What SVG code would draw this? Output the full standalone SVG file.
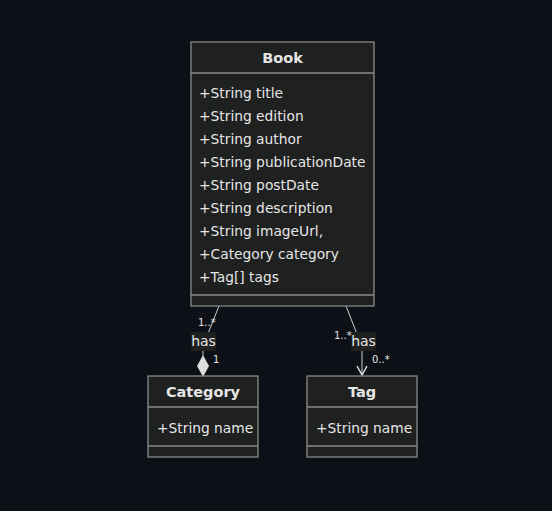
<svg xmlns="http://www.w3.org/2000/svg" width="552" height="511" viewBox="0 0 552 511">
<style>
.bg{fill:#0d1117}
.box{fill:#1f2020;stroke:#8a8a8a;stroke-width:1.3}
.div{stroke:#8a8a8a;stroke-width:1.3}
.t{font-family:"DejaVu Sans",Verdana,sans-serif;fill:#e6e6e6}
.title{font-size:14.5px;font-weight:bold;text-anchor:middle}
.attr{font-size:13.8px}
.edge{fill:none;stroke:#cccccc;stroke-width:1}
.card{font-family:"DejaVu Sans",sans-serif;font-size:10px;fill:#e6e6e6}
.lbl{fill:#1f2020}
.lt{font-family:"DejaVu Sans",sans-serif;font-size:14px;fill:#e6e6e6;text-anchor:middle}
.head{fill:#dddddd;stroke:#dddddd;stroke-width:1}
.open{fill:none;stroke:#dddddd;stroke-width:1.5}
</style>
<rect class="bg" x="0" y="0" width="552" height="511"/>
<g id="connectors">
<path class="edge" d="M219,306 L207,336 L203,346 L203,356"/>
<path class="head" d="M203,356 L208.5,366 L203,376 L197.5,366 Z"/>
<path class="edge" d="M346,306 L357,334 L362,342 L362,375"/>
<path class="open" d="M357,366 L362,375 L367,366"/>
<rect class="lbl" x="191" y="332" width="25" height="19"/>
<text class="lt" x="203.5" y="346">has</text>
<rect class="lbl" x="351" y="332" width="25" height="19"/>
<text class="lt" x="363.5" y="346">has</text>
<text class="card" x="198" y="326">1..*</text>
<text class="card" x="213" y="363">1</text>
<text class="card" x="334" y="339">1..*</text>
<text class="card" x="372" y="363">0..*</text>
</g>
<g id="book">
<rect class="box" x="191" y="42" width="183" height="264"/>
<line class="div" x1="191" y1="73" x2="374" y2="73"/>
<line class="div" x1="191" y1="295" x2="374" y2="295"/>
<text class="t title" x="282.5" y="63">Book</text>
<text class="t attr" x="199" y="98">+String title</text>
<text class="t attr" x="199" y="121">+String edition</text>
<text class="t attr" x="199" y="144">+String author</text>
<text class="t attr" x="199" y="167">+String publicationDate</text>
<text class="t attr" x="199" y="190">+String postDate</text>
<text class="t attr" x="199" y="213">+String description</text>
<text class="t attr" x="199" y="236">+String imageUrl,</text>
<text class="t attr" x="199" y="259">+Category category</text>
<text class="t attr" x="199" y="282">+Tag[] tags</text>
</g>
<g id="category">
<rect class="box" x="148" y="376" width="110" height="81"/>
<line class="div" x1="148" y1="407" x2="258" y2="407"/>
<line class="div" x1="148" y1="446" x2="258" y2="446"/>
<text class="t title" x="203" y="397">Category</text>
<text class="t attr" x="157" y="433">+String name</text>
</g>
<g id="tag">
<rect class="box" x="307" y="376" width="110" height="81"/>
<line class="div" x1="307" y1="407" x2="417" y2="407"/>
<line class="div" x1="307" y1="446" x2="417" y2="446"/>
<text class="t title" x="362" y="397">Tag</text>
<text class="t attr" x="316" y="433">+String name</text>
</g>
</svg>
